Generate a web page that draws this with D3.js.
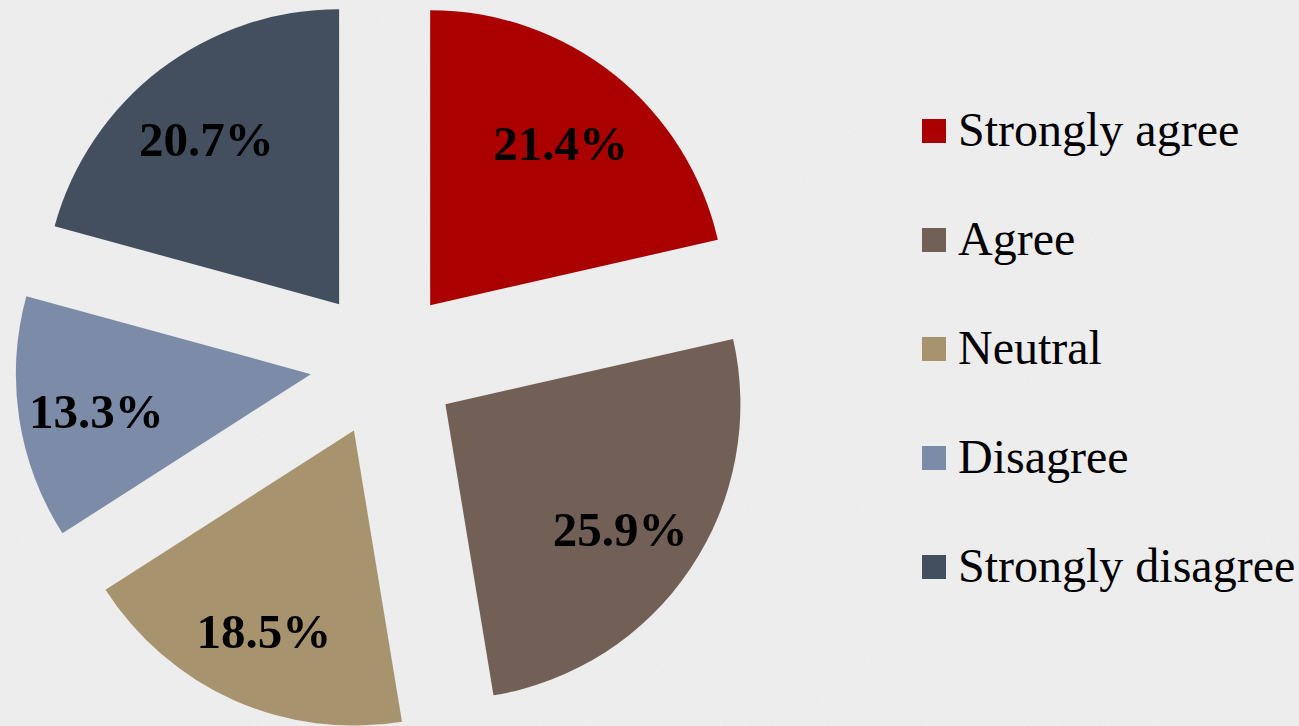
<!DOCTYPE html>
<html>
<head>
<meta charset="utf-8">
<script src="https://cdn.jsdelivr.net/npm/d3@7"></script>
<style>
  html, body { margin: 0; padding: 0; background: #f0f0f0; }
  svg { display: block; }
</style>
</head>
<body>
<div id="chart"></div>
<script>
var categories = ["Strongly agree", "Agree", "Neutral", "Disagree", "Strongly disagree"];
var percents = [21.4, 25.9, 18.5, 13.3, 20.7];
var colors = ["#aa0000", "#725f56", "#a8936f", "#7b8ba8", "#434f5e"];

var width = 1299, height = 726;
var radius = 295, explode = 74, labelR = 214;
var cx = 384, cy = 363;

var svg = d3.select("#chart").append("svg")
    .attr("width", width)
    .attr("height", height);

// paper-ish background texture
var defs = svg.append("defs");
var f = defs.append("filter").attr("id", "paper")
    .attr("x", 0).attr("y", 0).attr("width", "100%").attr("height", "100%");
f.append("feTurbulence").attr("type", "fractalNoise")
    .attr("baseFrequency", 0.9).attr("numOctaves", 2).attr("seed", 3);
f.append("feColorMatrix").attr("type", "matrix")
    .attr("values", "0 0 0 0 0  0 0 0 0 0  0 0 0 0 0  0 0 0 0.035 0");

svg.append("rect").attr("width", width).attr("height", height).attr("fill", "#f1f1f1");
svg.append("rect").attr("width", width).attr("height", height).attr("filter", "url(#paper)");

var pie = d3.pie().sort(null).value(function (d) { return d; });
var arc = d3.arc().innerRadius(0).outerRadius(radius);
var arcs = pie(percents);

var g = svg.append("g").attr("transform", "translate(" + cx + "," + cy + ")");

var slice = g.selectAll(".slice")
    .data(arcs)
    .enter().append("g")
    .attr("class", "slice")
    .attr("transform", function (d) {
        var a = (d.startAngle + d.endAngle) / 2;
        return "translate(" + (Math.sin(a) * explode) + "," + (-Math.cos(a) * explode) + ")";
    });

slice.append("path")
    .attr("d", arc)
    .attr("fill", function (d, i) { return colors[i]; });

// percentage labels
slice.append("text")
    .attr("x", function (d) { return Math.sin((d.startAngle + d.endAngle) / 2) * labelR - 3; })
    .attr("y", function (d) { return -Math.cos((d.startAngle + d.endAngle) / 2) * labelR + 5; })
    .attr("dy", "0.35em")
    .attr("text-anchor", "middle")
    .attr("font-family", "'Liberation Serif', 'Times New Roman', serif")
    .attr("font-weight", "bold")
    .attr("font-size", "49px")
    .attr("fill", "#000")
    .text(function (d, i) { return percents[i].toFixed(1) + "%"; });

// legend
var legend = svg.append("g").attr("transform", "translate(922,119)");
var item = legend.selectAll(".item")
    .data(categories)
    .enter().append("g")
    .attr("class", "item")
    .attr("transform", function (d, i) { return "translate(0," + (i * 109) + ")"; });

item.append("rect")
    .attr("width", 24)
    .attr("height", 24)
    .attr("fill", function (d, i) { return colors[i]; });

item.append("text")
    .attr("x", 36)
    .attr("y", 27)
    .attr("font-family", "'Liberation Serif', 'Times New Roman', serif")
    .attr("font-size", "48px")
    .attr("fill", "#000")
    .text(function (d) { return d; });
</script>
</body>
</html>
